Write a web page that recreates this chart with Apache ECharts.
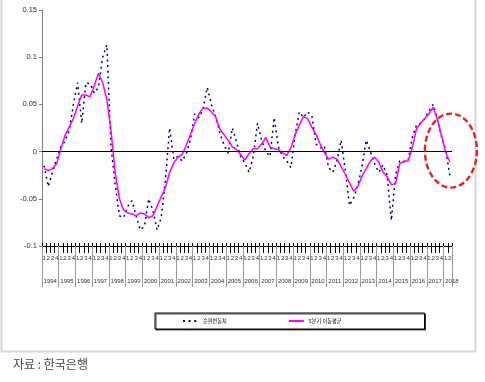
<!DOCTYPE html>
<html><head><meta charset="utf-8">
<script src="https://cdn.jsdelivr.net/npm/echarts@6/dist/echarts.min.js"></script>
<style>html,body{margin:0;padding:0;background:#fff}#c{width:485px;height:382px}</style>
</head><body><div id="c"></div>
<script>
// ---- data ----
const years = ['1994','1995','1996','1997','1998','1999','2000','2001','2002','2003','2004','2005','2006','2007','2008','2009','2010','2011','2012','2013','2014','2015','2016','2017','2018'];
const quarters = ['1','2','3','4'];
const lastYearQuarterCount = 2;
const yMin = -0.1, yMax = 0.15, yStep = 0.05;
const seriesNames = ['순환변동치', '5분기 이동평균'];
const sourceText = '자료 : 한국은행';
const cyclical = [
 -0.015,-0.037,-0.022,-0.008, 0.005,0.011,0.022,0.05, 0.073,0.03,0.073,0.072, 0.062,0.068,0.1,0.113,
 0.005,-0.035,-0.068,-0.07, -0.058,-0.052,-0.068,-0.083, -0.079,-0.05,-0.062,-0.083, -0.07,-0.03,0.025,-0.008,
 -0.005,-0.01,-0.002,0.013, 0.04,0.036,0.045,0.068, 0.05,0.037,0.02,0.007, -0.002,0.025,0.01,-0.006,
 -0.012,-0.022,-0.005,0.03, 0.012,0.0,-0.005,0.036, 0.005,-0.005,-0.01,-0.017, 0.018,0.042,0.036,0.042,
 0.038,0.008,0.004,0.006, -0.017,-0.022,-0.01,0.012, -0.02,-0.057,-0.049,-0.036, -0.015,0.012,0.0,-0.013,
 -0.022,-0.014,-0.025,-0.073, -0.025,-0.01,-0.011,-0.01, 0.015,0.028,0.03,0.035, 0.043,0.05,0.035,0.015,
 0.002,-0.026
];
const movingAvg = [
 -0.018,-0.02,-0.018,-0.013, 0.003,0.017,0.026,0.035, 0.048,0.06,0.06,0.058, 0.07,0.083,0.073,0.055,
 0.022,-0.022,-0.05,-0.062, -0.065,-0.066,-0.068,-0.065, -0.066,-0.07,-0.068,-0.058, -0.048,-0.038,-0.022,-0.012,
 -0.006,-0.003,0.007,0.018, 0.03,0.04,0.046,0.046, 0.042,0.037,0.024,0.018, 0.012,0.005,0.002,-0.003,
 -0.009,-0.002,0.003,0.003, 0.008,0.015,0.005,0.003, 0.002,-0.001,-0.004,0.004, 0.018,0.028,0.037,0.035,
 0.026,0.018,0.008,-0.001, -0.008,-0.006,-0.008,-0.016, -0.024,-0.033,-0.042,-0.037, -0.026,-0.018,-0.01,-0.006,
 -0.011,-0.022,-0.027,-0.035, -0.034,-0.013,-0.01,-0.01, 0.004,0.024,0.03,0.035, 0.04,0.047,0.034,0.017,
 -0.001,-0.011
];

// ---- categories ----
const categories = [];
years.forEach((y, yi) => {
  const n = yi === years.length - 1 ? lastYearQuarterCount : quarters.length;
  for (let q = 0; q < n; q++) categories.push(y + 'Q' + quarters[q]);
});

const numFont = "'Liberation Sans', Arial, sans-serif";
const krFont = "'Noto Sans CJK KR', 'Liberation Sans', sans-serif";

const chart = echarts.init(document.getElementById('c'), null, {renderer: 'canvas'});
chart.setOption({
  animation: false,
  backgroundColor: '#fff',
  title: {
    text: sourceText, left: 13, top: 358, padding: 0,
    textStyle: {fontSize: 12, fontWeight: 'normal', color: '#444', fontFamily: krFont}
  },
  legend: {
    data: seriesNames, left: 155, top: 313, orient: 'horizontal',
    padding: [4, 83, 4, 27], itemGap: 61, itemWidth: 15, itemHeight: 10,
    borderColor: '#000', borderWidth: 1, borderRadius: 0, backgroundColor: '#fff',
    shadowColor: 'rgba(0,0,0,0.7)', shadowOffsetX: 1, shadowOffsetY: 1, shadowBlur: 0,
    itemStyle: {opacity: 0},
    textStyle: {fontSize: 5.2, color: '#000', fontFamily: krFont}
  },
  grid: {left: 42, right: 33, top: 10, bottom: 136, outerBoundsMode: 'none'},
  xAxis: [
    {
      type: 'category', data: categories, boundaryGap: true, position: 'bottom',
      axisLine: {show: true, onZero: false, lineStyle: {color: '#000', width: 1}},
      axisTick: {show: true, interval: 0, length: 7, lineStyle: {color: '#000'}},
      axisLabel: {interval: 0, fontSize: 6, margin: 9, color: '#333', fontFamily: numFont,
        formatter: v => v.split('Q')[1]},
      splitLine: {show: false}
    },
    {
      type: 'category', data: categories, boundaryGap: true, position: 'bottom',
      axisLine: {show: false, onZero: false},
      axisTick: {show: true, interval: 0, inside: true, length: 3, lineStyle: {color: '#000'}},
      axisLabel: {show: false}, splitLine: {show: false}
    },
    {
      type: 'category', data: categories, boundaryGap: true, position: 'bottom',
      axisLine: {show: false, onZero: false},
      axisTick: {show: true, interval: (i) => i % 4 === 0, length: 41, lineStyle: {color: '#9a9a9a'}},
      axisLabel: {interval: (i) => i % 4 === 1, fontSize: 6, margin: 32, color: '#333', fontFamily: numFont,
        padding: [0, 0, 0, 4], formatter: v => v.split('Q')[0]},
      splitLine: {show: false}
    }
  ],
  yAxis: {
    type: 'value', min: yMin, max: yMax, interval: yStep,
    axisLine: {show: true, lineStyle: {color: '#808080'}},
    axisTick: {show: true, length: 3, lineStyle: {color: '#808080'}},
    axisLabel: {fontSize: 7.5, color: '#333', margin: 5, fontFamily: numFont},
    splitLine: {show: false}
  },
  series: [
    {
      name: seriesNames[0], type: 'line', data: cyclical, xAxisIndex: 0, symbol: 'none',
      lineStyle: {color: '#000080', width: 1.5, type: [2, 3.6]},
      itemStyle: {color: '#000080'}, z: 3
    },
    {
      name: seriesNames[1], type: 'line', data: movingAvg, xAxisIndex: 0, symbol: 'none',
      lineStyle: {color: '#ff00ff', width: 1.5},
      itemStyle: {color: '#ff00ff'}, z: 4,
      markLine: {
        silent: true, symbol: ['none', 'none'], label: {show: false},
        lineStyle: {color: '#000', width: 1, type: 'solid'},
        data: [{yAxis: 0}]
      }
    }
  ],
  graphic: {elements: [
    {type: 'rect', id: 'frame', silent: true, z: -1,
     shape: {x: 1.5, y: -10, width: 474, height: 361.5},
     style: {fill: null, stroke: '#d6d6d6', lineWidth: 2}}
  ]}
});

// annotation ellipse around the latest data, positioned through the axes
const c = chart.convertToPixel({gridIndex: 0}, [categories.length - 1, 0]);
chart.setOption({graphic: {elements: [
  {type: 'ellipse', id: 'mark', silent: true, z: 10,
   shape: {cx: c[0] + 1, cy: c[1] - 1, rx: 26, ry: 37},
   style: {fill: null, stroke: '#e32222', lineWidth: 2.4, lineDash: [6, 3]}}
]}});
</script></body></html>
